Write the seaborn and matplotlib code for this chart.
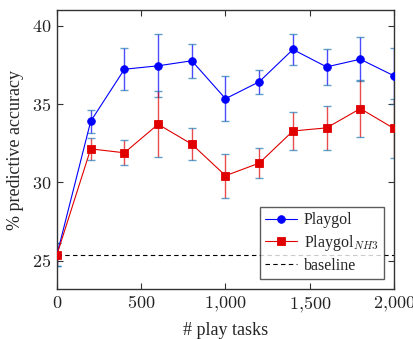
import matplotlib
matplotlib.use("Agg")
import matplotlib.pyplot as plt
import matplotlib.ticker as mticker
import seaborn as sns
import pandas as pd

tasks = [0, 200, 400, 600, 800, 1000, 1200, 1400, 1600, 1800, 2000]
playgol = [25.4, 33.9, 37.22, 37.44, 37.76, 35.34, 36.42, 38.48, 37.37, 37.86, 36.8]
playgol_err = [0.75, 0.72, 1.35, 2.0, 1.1, 1.43, 0.77, 1.0, 1.15, 1.4, 1.8]
nh3 = [25.4, 32.14, 31.89, 33.71, 32.44, 30.43, 31.23, 33.28, 33.48, 34.71, 33.44]
nh3_err = [0.75, 0.68, 0.8, 2.1, 1.0, 1.4, 0.98, 1.2, 1.42, 1.82, 1.9]
baseline = 25.4

sns.set_style("ticks")
plt.rcParams['font.family'] = ['Liberation Serif', 'DejaVu Serif']
plt.rcParams['mathtext.fontset'] = 'cm'

df = pd.DataFrame({
    "tasks": tasks * 2,
    "acc": playgol + nh3,
    "series": ["Playgol"] * len(tasks) + ["Playgol$_{NH3}$"] * len(tasks),
})

fig = plt.figure(figsize=(4.14, 3.39), dpi=100)
ax = fig.add_axes([57/414, 50/339, 337/414, 279/339])

colors = {"Playgol": "#0000ff", "Playgol$_{NH3}$": "#e00000"}
ax.errorbar(tasks, playgol, yerr=playgol_err, fmt='none', ecolor='#0000ff',
            alpha=0.7, elinewidth=1.0, capsize=3, capthick=1.0, zorder=2)
ax.errorbar(tasks, nh3, yerr=nh3_err, fmt='none', ecolor='#e00000',
            alpha=0.7, elinewidth=1.0, capsize=3, capthick=1.0, zorder=2)
sns.lineplot(data=df, x="tasks", y="acc", hue="series", style="series",
             markers={"Playgol": "o", "Playgol$_{NH3}$": "s"}, dashes=False,
             palette=colors, linewidth=0.8, markersize=5.5,
             markeredgewidth=0.6, ax=ax, zorder=3)
for line in ax.lines:
    line.set_markeredgecolor(line.get_color())
ax.axhline(baseline, color='black', linestyle=(0, (4, 3)), linewidth=0.8,
           label='baseline', zorder=1)

ax.set_xlim(0, 2000)
ax.set_ylim(23.2, 41)
ax.set_xticks([0, 500, 1000, 1500, 2000])
ax.set_yticks([25, 30, 35, 40])
ax.xaxis.set_major_formatter(mticker.FuncFormatter(
    lambda v, p: "$" + "{,}".join(f"{int(v):,}".split(",")) + "$"))
ax.yaxis.set_major_formatter(mticker.FuncFormatter(lambda v, p: f"${int(v)}$"))
ax.tick_params(direction='in', top=True, right=True, length=4, width=0.8,
               labelsize=13, colors='#333333', labelcolor='#222222', pad=4)
for s in ax.spines.values():
    s.set_linewidth(1.0)
    s.set_color('#333333')
ax.set_xlabel("# play tasks", fontsize=13, labelpad=5)
ax.set_ylabel("% predictive accuracy", fontsize=13, labelpad=6)

handles, labels = ax.get_legend_handles_labels()
leg = ax.legend(handles, labels, loc='lower right', fontsize=11.5,
                frameon=True, fancybox=False, edgecolor='#333333',
                borderaxespad=0.6, handlelength=2.0, labelspacing=0.3,
                borderpad=0.35, handletextpad=0.4)
leg.get_frame().set_linewidth(1.0)

fig.savefig("out.png", dpi=100)
